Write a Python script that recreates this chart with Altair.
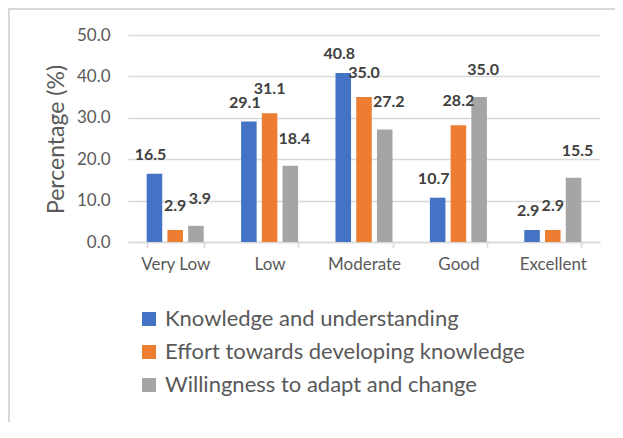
import altair as alt
import pandas as pd

categories = ["Very Low", "Low", "Moderate", "Good", "Excellent"]
series = ["Knowledge and understanding", "Effort towards developing knowledge", "Willingness to adapt and change"]
knowledge = [16.5, 29.1, 40.8, 10.7, 2.9]
effort = [2.9, 31.1, 35.0, 28.2, 2.9]
willingness = [3.9, 18.4, 27.2, 35.0, 15.5]
colors = ["#4472C4", "#ED7D31", "#A5A5A5"]

rows = []
for s, vals in zip(series, [knowledge, effort, willingness]):
    for c, v in zip(categories, vals):
        rows.append({"Category": c, "Series": s, "Value": v})
df = pd.DataFrame(rows)

FONT = "Lato"
W, H = 472, 207

x = alt.X("Category:N", sort=categories, title=None,
          scale=alt.Scale(paddingInner=0.396, paddingOuter=0.198),
          axis=alt.Axis(labelAngle=0, labelFontSize=17, labelColor="#595959", labelFont=FONT,
                        domainColor="#D9D9D9", domainWidth=1.5, tickColor="#D9D9D9", tickSize=6,
                        tickWidth=1.5, tickBand="extent", labelPadding=8))
xo = alt.XOffset("Series:N", sort=series, scale=alt.Scale(paddingInner=0.25, paddingOuter=0))
y = alt.Y("Value:Q", scale=alt.Scale(domain=[0, 50]),
          axis=alt.Axis(values=[0, 10, 20, 30, 40, 50], format=".1f", title="Percentage (%)",
                        labelFontSize=17, labelColor="#595959", labelFont=FONT, labelPadding=18,
                        ticks=False, domain=False, gridColor="#D9D9D9", gridWidth=1.5,
                        titleFontSize=23, titleFont=FONT, titleFontWeight="normal", titleColor="#595959",
                        titleAngle=-90, titleX=-72, titleY=104, titleAlign="center", titleBaseline="middle"))
color = alt.Color("Series:N", sort=series, scale=alt.Scale(domain=series, range=colors),
                  legend=alt.Legend(title=None, orient="none", legendX=10, legendY=273, direction="vertical",
                                    symbolType="square", symbolSize=196, symbolStrokeWidth=0,
                                    labelFontSize=22, labelFont=FONT, labelColor="#595959",
                                    labelOffset=5, rowPadding=11, labelLimit=600))

bars = alt.Chart(df).mark_bar().encode(x=x, xOffset=xo, y=y, color=color)

label_layers = []
nudges = {series[0]: (-4, -14), series[1]: (0, -19), series[2]: (4, -22)}
for s in series:
    dx, dy = nudges[s]
    label_layers.append(
        alt.Chart(df).transform_filter(alt.datum.Series == s).mark_text(
            dx=dx, dy=dy, baseline="alphabetic", fontSize=16, fontWeight="bold",
            font=FONT, color="#404040").encode(
            x=alt.X("Category:N", sort=categories), xOffset=xo, y="Value:Q",
            text=alt.Text("Value:Q", format=".1f"))
    )

frame = alt.Chart(pd.DataFrame({"a": [0]})).mark_rect(fill=None, stroke="#D9D9D9", strokeWidth=2,
                                                        clip=False).encode(
    x=alt.value(-119), x2=alt.value(600), y=alt.value(-26), y2=alt.value(600))

chart = alt.layer(frame, bars, *label_layers).properties(
    width=W, height=H,
    padding={"left": 120, "top": 27, "right": 15, "bottom": 180},
    autosize=alt.AutoSizeParams(type="none"),
).configure_view(stroke=None)

chart.save("out.html", embed_options={"renderer": "svg", "actions": False})
